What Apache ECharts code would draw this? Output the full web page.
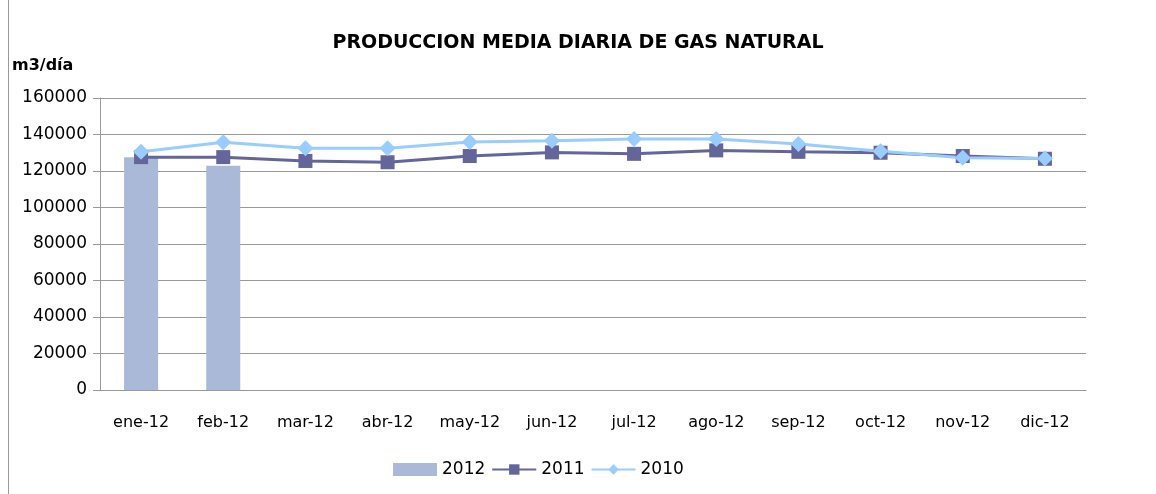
<!DOCTYPE html>
<html>
<head>
<meta charset="utf-8">
<script src="https://cdn.jsdelivr.net/npm/echarts@6/dist/echarts.min.js"></script>
<style>
  html, body { margin: 0; padding: 0; background: #fff; }
  #chart { width: 1156px; height: 494px; }
</style>
</head>
<body>
<div id="chart"></div>
<script>
const months = ["ene-12", "feb-12", "mar-12", "abr-12", "may-12", "jun-12",
  "jul-12", "ago-12", "sep-12", "oct-12", "nov-12", "dic-12"];
const serie2012 = [127600, 122900, null, null, null, null, null, null, null, null, null, null];
const serie2011 = [127600, 127600, 125500, 124800, 128200, 130200, 129400, 131300, 130500, 130000, 128200, 126700];
const serie2010 = [130600, 135700, 132400, 132400, 135900, 136600, 137500, 137500, 134800, 130800, 127300, 126900];

const font = "'DejaVu Sans', sans-serif";

const chart = echarts.init(document.getElementById("chart"));
chart.setOption({
  animation: false,
  textStyle: { fontFamily: font },
  title: {
    text: "PRODUCCION MEDIA DIARIA DE GAS NATURAL",
    left: "center",
    top: 29,
    textStyle: { fontFamily: font, fontSize: 19, fontWeight: "bold", color: "#000" }
  },
  graphic: [
    { type: "line", shape: { x1: 8.5, y1: 0, x2: 8.5, y2: 494 }, style: { stroke: "#999", lineWidth: 1 } },
    { type: "text", left: 12, top: 58, style: { text: "m3/día", font: "bold 16px " + font, fill: "#000" } }
  ],
  legend: {
    top: 456,
    left: 388,
    itemWidth: 44,
    itemHeight: 13,
    itemGap: 6,
    textStyle: { fontFamily: font, fontSize: 17, color: "#000" },
    data: [
      { name: "2012", icon: "rect" },
      { name: "2011" },
      { name: "2010" }
    ]
  },
  grid: { left: 100, right: 70, top: 98, bottom: 104 },
  xAxis: {
    type: "category",
    data: months,
    axisLine: { lineStyle: { color: "#999" } },
    axisTick: { show: false },
    axisLabel: { color: "#000", fontSize: 16, margin: 25, interval: 0, fontFamily: font }
  },
  yAxis: {
    type: "value",
    min: 0,
    max: 160000,
    interval: 20000,
    axisLine: { show: true, lineStyle: { color: "#999" } },
    axisTick: { show: true, length: 7, lineStyle: { color: "#999" } },
    splitLine: { lineStyle: { color: "#999" } },
    axisLabel: {
      color: "#000", fontSize: 17, margin: 13, fontFamily: font,
      formatter: (v) => String(v)
    }
  },
  series: [
    {
      name: "2012",
      type: "bar",
      data: serie2012,
      barWidth: 34,
      barGap: "-100%",
      itemStyle: { color: "#A9B9D7" }
    },
    {
      name: "2011",
      type: "line",
      data: serie2011,
      symbol: "rect",
      symbolSize: 14,
      lineStyle: { color: "#64659A", width: 3 },
      itemStyle: { color: "#64659A" }
    },
    {
      name: "2010",
      type: "line",
      data: serie2010,
      symbol: "diamond",
      symbolSize: 16,
      lineStyle: { color: "#99CCFF", width: 3 },
      itemStyle: { color: "#99CCFF" }
    }
  ]
});
</script>
</body>
</html>
